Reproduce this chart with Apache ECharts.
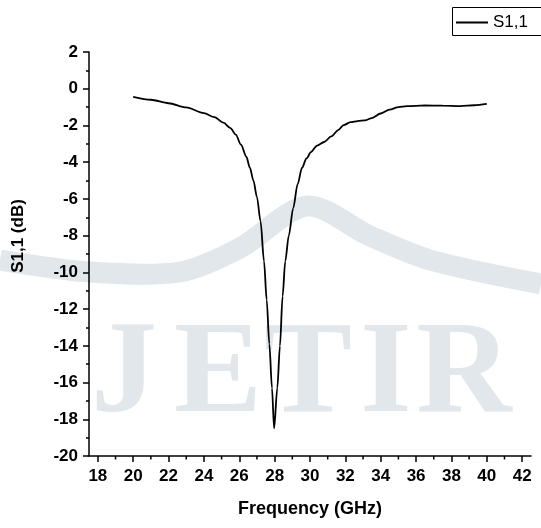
<!DOCTYPE html>
<html>
<head>
<meta charset="utf-8">
<script src="https://cdn.jsdelivr.net/npm/echarts@6/dist/echarts.min.js"></script>
<style>
  html, body { margin: 0; padding: 0; background: #fff; }
  #chart { width: 541px; height: 528px; }
</style>
</head>
<body>
<div id="chart"></div>
<script>
// frequency (GHz) and S1,1 (dB)
const freq = [20.0, 21.0, 22.0, 23.0, 24.0, 24.6, 25.1, 25.5, 25.8, 26.1, 26.4, 26.6, 26.8, 27.0,
  27.2, 27.4, 27.55, 27.7, 27.85, 27.97, 28.15, 28.3, 28.45, 28.6, 28.8, 29.05, 29.3, 29.55,
  29.8, 30.05, 30.4, 30.8, 31.2, 31.6, 31.9, 32.3, 32.7, 33.1, 33.5, 34.0, 34.5, 35.0, 35.5,
  36.5, 37.5, 38.5, 39.3, 40.0];
const s11 = [-0.44, -0.60, -0.79, -1.02, -1.33, -1.55, -1.85, -2.15, -2.5, -3.05, -3.7, -4.3, -5.0, -5.9,
  -7.2, -9.4, -11.5, -13.9, -16.3, -18.5, -16.3, -14.0, -11.3, -9.4, -8.0, -6.5, -5.2, -4.3,
  -3.8, -3.45, -3.1, -2.9, -2.6, -2.25, -1.98, -1.82, -1.76, -1.72, -1.6, -1.35, -1.14, -1.0, -0.95,
  -0.91, -0.92, -0.95, -0.9, -0.83];
const xMajor = [18, 20, 22, 24, 26, 28, 30, 32, 34, 36, 38, 40, 42];
const xMinor = [19, 21, 23, 25, 27, 29, 31, 33, 35, 37, 39, 41];

const font = '"Liberation Sans", Arial, sans-serif';
const wm = '#e1e7eb';
const wmFont = 'bold 132px "Liberation Serif", serif';
const yMin = -20;

const chart = echarts.init(document.getElementById('chart'), null, { renderer: 'canvas' });

const points = freq.map((f, i) => [f, s11[i]]);

function letter(ch, x) {
  return {
    type: 'text', z: -10, silent: true,
    style: { text: ch, x: x, y: 443, fill: wm, font: wmFont, align: 'center', verticalAlign: 'bottom' }
  };
}

const option = {
  animation: false,
  backgroundColor: '#fff',
  grid: { left: 89, top: 52, right: 10, bottom: 72 },
  graphic: [
    // watermark behind the plot
    {
      type: 'polyline', z: -10, silent: true,
      shape: { points: [[0, 260], [90, 272], [180, 272], [240, 248], [307, 206], [370, 236], [430, 260], [541, 284]], smooth: 0.3 },
      style: { stroke: wm, lineWidth: 21, fill: null }
    },
    letter('J', 124), letter('E', 218), letter('T', 308), letter('I', 386), letter('R', 464),
    // legend frame, running off the right edge like the original
    {
      type: 'rect', z: 0, silent: true,
      shape: { x: 452.5, y: 7.5, width: 120, height: 28 },
      style: { fill: '#fff', stroke: '#000', lineWidth: 1 }
    }
  ],
  legend: {
    z: 10,
    data: [{ name: 'S1,1', icon: 'rect' }],
    left: 453, top: 8,
    padding: [6, 0, 6, 3],
    itemWidth: 32, itemHeight: 2,
    textStyle: { fontFamily: font, fontSize: 17, color: '#000' }
  },
  xAxis: {
    type: 'value', min: 17.5, max: 42.5,
    name: 'Frequency (GHz)', nameLocation: 'middle', nameGap: 44,
    nameTextStyle: { fontFamily: font, fontSize: 18, fontWeight: 'bold', color: '#000' },
    axisLine: { onZero: false, lineStyle: { color: '#000', width: 1.5 } },
    axisTick: { customValues: xMajor, length: 6, lineStyle: { color: '#000', width: 1.5 } },
    axisLabel: { customValues: xMajor, margin: 12, fontFamily: font, fontSize: 17, fontWeight: 'bold', color: '#000' },
    splitLine: { show: false }
  },
  yAxis: {
    type: 'value', min: yMin, max: 2, interval: 2,
    name: 'S1,1 (dB)', nameLocation: 'middle', nameGap: 62, nameRotate: 90,
    nameTextStyle: { fontFamily: font, fontSize: 17, fontWeight: 'bold', color: '#000', padding: [0, 0, 0, 36] },
    axisLine: { show: true, onZero: false, lineStyle: { color: '#000', width: 1.5 } },
    axisTick: { show: true, length: 6, lineStyle: { color: '#000', width: 1.5 } },
    minorTick: { show: true, splitNumber: 2, length: 3, lineStyle: { color: '#000', width: 1.5 } },
    axisLabel: { margin: 11, fontFamily: font, fontSize: 17, fontWeight: 'bold', color: '#000' },
    splitLine: { show: false }
  },
  series: [
    {
      name: 'S1,1', type: 'line',
      data: points,
      symbol: 'none',
      smooth: 0.3, smoothMonotone: 'x',
      lineStyle: { color: '#000', width: 1.8 },
      itemStyle: { color: '#000' }
    },
    {
      // minor ticks of the frequency axis
      name: 'minor', type: 'custom', clip: false, silent: true,
      data: xMinor,
      renderItem: function (params, api) {
        const p = api.coord([api.value(0), yMin]);
        return {
          type: 'line',
          shape: { x1: p[0], y1: p[1], x2: p[0], y2: p[1] + 3.5 },
          style: { stroke: '#000', lineWidth: 1.5 }
        };
      }
    }
  ]
};

chart.setOption(option);
</script>
</body>
</html>
